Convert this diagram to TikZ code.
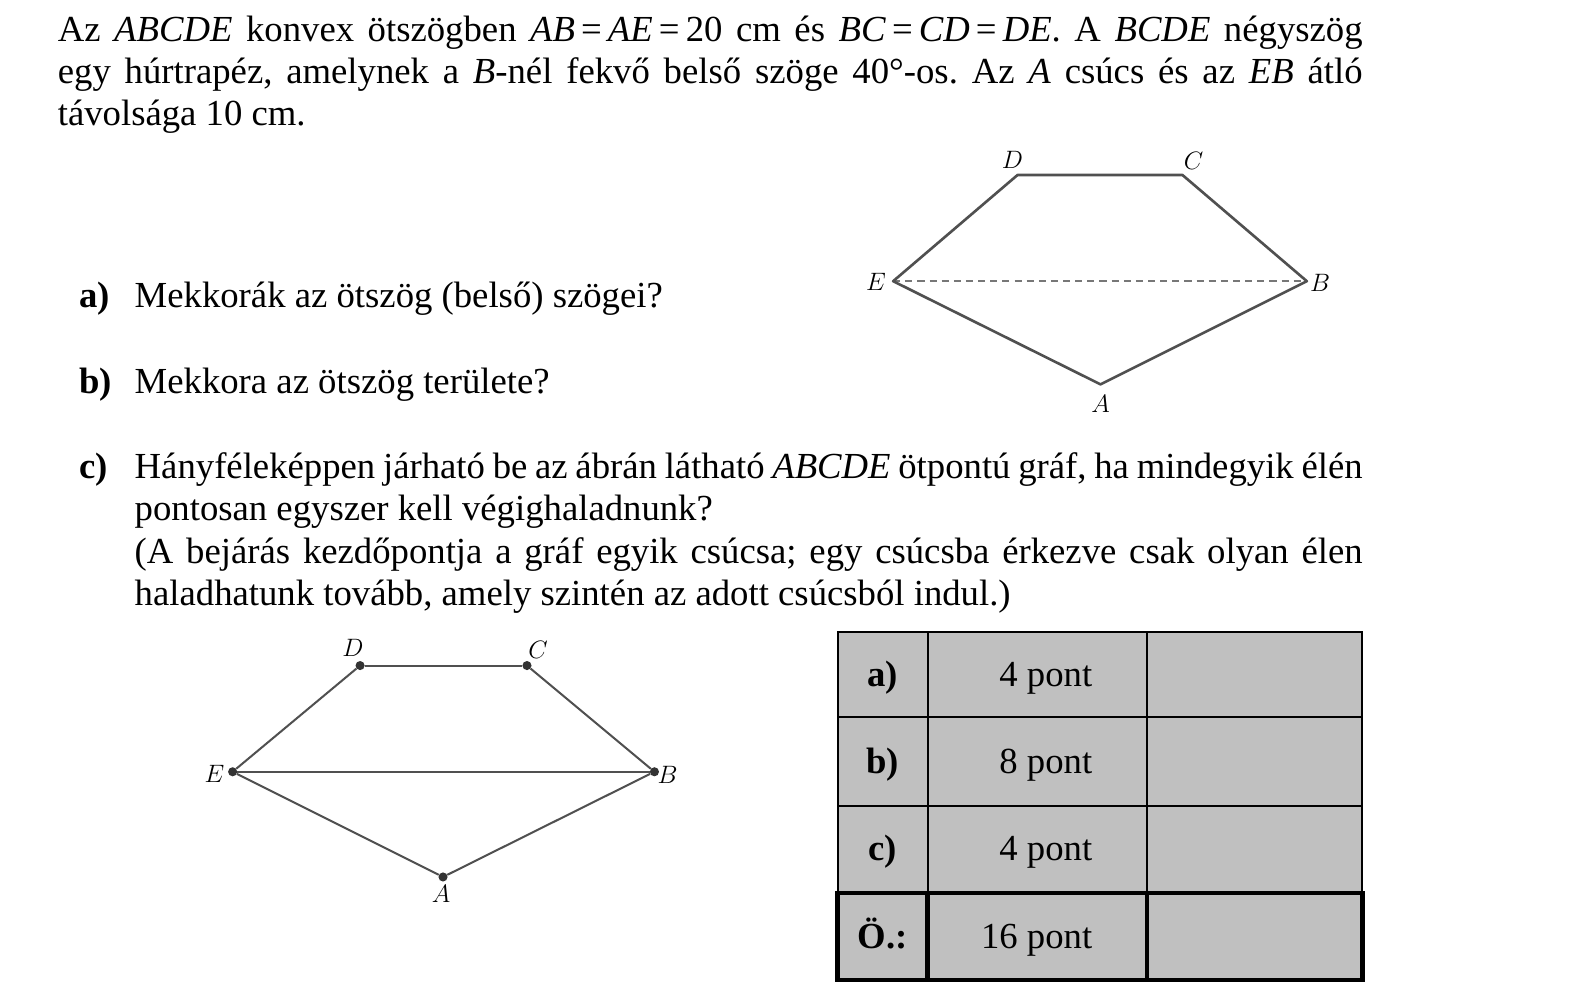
\documentclass[tikz,border=0pt]{standalone}
\usepackage{fontspec}
\setmainfont{Liberation Serif}
\usepackage{tikz}
\usetikzlibrary{calc,positioning}
\frenchspacing

\definecolor{cellgray}{HTML}{C0C0C0}
\definecolor{edgegray}{HTML}{505050}
\definecolor{dashgray}{HTML}{777777}
\definecolor{dotgray}{HTML}{333333}
\newcommand{\jline}[2]{\hbox to #1{#2}}

\begin{document}
\begin{tikzpicture}[x=1pt, y=-1pt,
  txt/.style={anchor=base west, inner sep=0pt, font=\fontsize{36.3}{42}\selectfont},
  cell/.style={anchor=base, inner sep=0pt, font=\fontsize{36.3}{42}\selectfont},
  lbl/.style={inner sep=0pt, font=\fontsize{29}{32}\selectfont},
  vtx/.style={circle, fill=dotgray, inner sep=0pt, minimum size=9pt},
  side/.style={draw=edgegray, line width=2.6pt, line join=round},
  diag/.style={draw=dashgray, line width=1.5pt, dash pattern=on 7pt off 5pt},
  rib/.style={draw=edgegray, line width=2pt},
  rule/.style={draw=black, line width=2pt},
  boldrule/.style={draw=black, line width=4.5pt}]
  \useasboundingbox (0,0) rectangle (1568,982);

  % problem text
  \node[txt] (l1) at (57,41) {\jline{1290pt}{Az \textit{ABCDE} konvex ötszögben \textit{AB}\,=\,\textit{AE}\,=\,20 cm és \textit{BC}\,=\,\textit{CD}\,=\,\textit{DE}. A \textit{BCDE} négyszög}};
  \node[txt] (l2) at (57,83) {\jline{1290pt}{egy húrtrapéz, amelynek a \textit{B}-nél fekvő belső szöge 40°-os. Az \textit{A} csúcs és az \textit{EB} átló}};
  \node[txt] (l3) at (57,124) {távolsága 10 cm.};

  \node[txt] (qa) at (78,304) {\textbf{a)}};
  \node[txt] (ta) at (133,304) {Mekkorák az ötszög (belső) szögei?};
  \node[txt] (qb) at (78,389) {\textbf{b)}};
  \node[txt] (tb) at (133,389) {Mekkora az ötszög területe?};
  \node[txt] (qc) at (78,473) {\textbf{c)}};
  \node[txt] (tc1) at (133,473) {\jline{1214pt}{Hányféleképpen járható be az ábrán látható \textit{ABCDE} ötpontú gráf, ha mindegyik élén}};
  \node[txt] (tc2) at (133,515) {pontosan egyszer kell végighaladnunk?};
  \node[txt] (tc3) at (133,557) {\jline{1214pt}{(A bejárás kezdőpontja a gráf egyik csúcsa; egy csúcsba érkezve csak olyan élen}};
  \node[txt] (tc4) at (133,599) {haladhatunk tovább, amely szintén az adott csúcsból indul.)};

  % pentagon
  \coordinate (D) at (1006,173);
  \coordinate (C) at (1169,173);
  \coordinate (E) at (883,278);
  \coordinate (B) at (1292,278);
  \coordinate (A) at (1088,380);
  \draw[diag] (E) -- (B);
  \draw[side] (E) -- (D) -- (C) -- (B) -- (A) -- cycle;
  \node[lbl] (lD) at (1001,158) {$D$};
  \node[lbl] (lC) at (1180,159) {$C$};
  \node[lbl] (lE) at (866,279) {$E$};
  \node[lbl] (lB) at (1305,280) {$B$};
  \node[lbl] (lA) at (1088,399) {$A$};

  % graph
  \node[vtx] (d) at (356,658) {};
  \node[vtx] (c) at (521,658) {};
  \node[vtx] (e) at (230,763) {};
  \node[vtx] (b) at (647,763) {};
  \node[vtx] (a) at (438,867) {};
  \path[rib]
    (e) edge (d)
    (d) edge (c)
    (c) edge (b)
    (b) edge (a)
    (a) edge (e)
    (e) edge (b);
  \node[lbl] (ld) at (349,641) {$D$};
  \node[lbl] (lc) at (532,643) {$C$};
  \node[lbl] (le) at (212,765) {$E$};
  \node[lbl] (lb) at (660,766) {$B$};
  \node[lbl] (la) at (436,884) {$A$};

  % score table
  \fill[cellgray] (828,625) rectangle (1347,969);
  \draw[rule] (828,625) rectangle (1347,883);
  \draw[rule] (828,709) -- (1347,709) (828,797) -- (1347,797);
  \draw[rule] (917,625) -- (917,883) (1134,625) -- (1134,883);
  \draw[boldrule] (828,883) rectangle (1347,969) (917,883) -- (917,969) (1134,883) -- (1134,969);
  \node[cell] (ra) at (872.5,679) {\textbf{a)}};
  \node[cell, anchor=base east] (pa) at (1080,679) {4 pont};
  \node[cell] (rb) at (872.5,765) {\textbf{b)}};
  \node[cell, anchor=base east] (pb) at (1080,765) {8 pont};
  \node[cell] (rc) at (872.5,851) {\textbf{c)}};
  \node[cell, anchor=base east] (pc) at (1080,851) {4 pont};
  \node[cell] (rs) at (872.5,938) {\textbf{Ö.:}};
  \node[cell, anchor=base east] (ps) at (1080,938) {16 pont};
\end{tikzpicture}
\end{document}
